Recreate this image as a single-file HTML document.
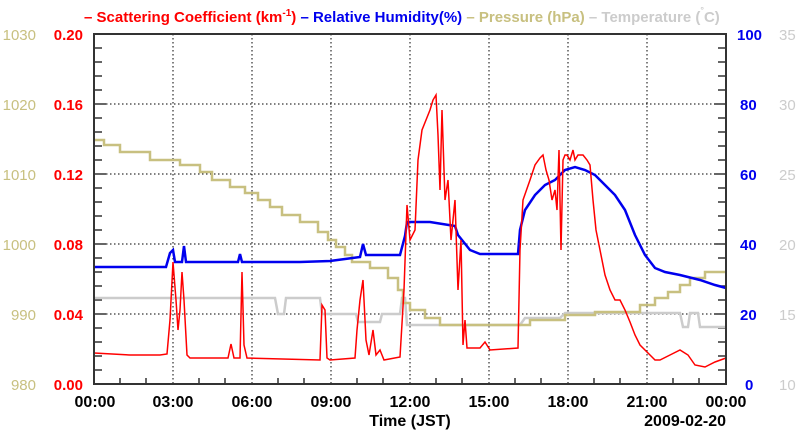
<!DOCTYPE html>
<html><head><meta charset="utf-8"><style>body{margin:0;background:#fff}svg{display:block;font-family:"Liberation Sans",sans-serif;font-weight:bold}</style></head><body>
<svg width="800" height="434" viewBox="0 0 800 434">
<g stroke="#000" stroke-dasharray="1.5,2.5" stroke-width="1">
<line x1="173" y1="34" x2="173" y2="384"/><line x1="252" y1="34" x2="252" y2="384"/><line x1="331" y1="34" x2="331" y2="384"/><line x1="410" y1="34" x2="410" y2="384"/><line x1="489" y1="34" x2="489" y2="384"/><line x1="568" y1="34" x2="568" y2="384"/><line x1="647" y1="34" x2="647" y2="384"/>
<line x1="94" y1="104" x2="726" y2="104"/><line x1="94" y1="174" x2="726" y2="174"/><line x1="94" y1="244" x2="726" y2="244"/><line x1="94" y1="314" x2="726" y2="314"/>
</g>
<g stroke="#333" stroke-width="1.5">
<path d="M94,48h8M94,62h8M94,76h8M94,90h8M94,104h12M94,118h8M94,132h8M94,146h8M94,160h8M94,174h12M94,188h8M94,202h8M94,216h8M94,230h8M94,244h12M94,258h8M94,272h8M94,286h8M94,300h8M94,314h12M94,328h8M94,342h8M94,356h8M94,370h8"/>
<path d="M726,48h-8M726,62h-8M726,76h-8M726,90h-8M726,104h-12M726,118h-8M726,132h-8M726,146h-8M726,160h-8M726,174h-12M726,188h-8M726,202h-8M726,216h-8M726,230h-8M726,244h-12M726,258h-8M726,272h-8M726,286h-8M726,300h-8M726,314h-12M726,328h-8M726,342h-8M726,356h-8M726,370h-8"/>
<path d="M120,384v-6M146,384v-6M199,384v-6M225,384v-6M278,384v-6M304,384v-6M357,384v-6M383,384v-6M436,384v-6M462,384v-6M515,384v-6M541,384v-6M594,384v-6M620,384v-6M673,384v-6M699,384v-6"/>
</g>
<polyline fill="none" stroke="#ccc" stroke-width="2.5" points="94,298 275,298 278,314 284,314 286,298 320,298 322,314 356,314 358,322 380,322 382,314 400,314 402,298 405,298 407,325 470,325 520,325 525,318 560,318 565,313 680,313 683,327 688,327 690,313 698,313 700,327 726,327"/>
<polyline fill="none" stroke="#c8c080" stroke-width="2.5" points="94,140 104,140 104,145 120,145 120,152 150,152 150,160 180,160 180,165 200,165 200,172 212,172 212,180 230,180 230,187 245,187 245,193 258,193 258,200 270,200 270,207 282,207 282,215 300,215 300,222 318,222 318,232 328,232 328,240 336,240 336,247 345,247 345,255 352,255 352,262 370,262 370,268 388,268 388,278 398,278 398,290 403,290 403,303 410,303 410,310 425,310 425,318 440,318 440,325 520,325 530,325 530,320 565,320 565,315 595,315 595,312 640,312 640,305 655,305 655,298 668,298 668,292 680,292 680,285 690,285 690,278 705,278 705,272 726,272"/>
<polyline fill="none" stroke="#0000ee" stroke-width="2.5" points="94,267 166,267 170,253 173,250 175,262 182,262 184,246 186,262 238,262 240,254 242,262 300,262 330,261 345,259 360,257 363,244 366,255 400,255 405,236 407,222 430,222 455,226 458,235 462,240 470,250 480,254 518,254 520,230 525,210 535,195 545,185 555,180 565,170 575,167 585,170 595,175 605,185 615,195 625,210 635,235 645,255 655,268 665,272 680,275 700,280 715,285 726,288"/>
<polyline fill="none" stroke="#ff0000" stroke-width="1.5" points="94,353 130,355 160,355 167,354 170,320 173,262 176,300 178,330 180,310 182,272 184,300 187,355 190,358 228,358 231,344 234,358 240,358 242,272 244,345 247,358 320,360 322,305 325,310 327,358 330,360 355,358 357,330 360,300 363,280 366,340 369,355 373,330 376,355 380,350 384,360 400,357 404,290 407,205 410,240 415,230 418,160 422,130 426,120 430,110 433,100 436,95 438,135 440,190 442,110 445,200 448,180 451,240 455,200 458,290 461,240 463,345 465,320 467,348 480,348 485,342 490,350 518,348 520,250 523,200 530,180 535,165 540,158 543,155 546,170 549,180 552,200 555,190 557,210 559,150 561,250 563,160 565,155 567,155 570,160 573,150 575,160 578,155 583,155 587,160 590,165 593,200 596,230 600,250 605,275 610,290 615,300 620,300 625,310 630,322 635,335 640,345 650,355 655,360 660,360 670,355 680,350 688,355 695,365 705,367 715,362 726,358"/>
<rect x="94" y="34" width="632" height="350" fill="none" stroke="#333" stroke-width="2"/>
<g font-size="15" fill="#ff0000" text-anchor="end"><text x="83" y="40">0.20</text><text x="83" y="110">0.16</text><text x="83" y="180">0.12</text><text x="83" y="250">0.08</text><text x="83" y="320">0.04</text><text x="83" y="390">0.00</text></g>
<g font-size="15" fill="#c8c080" font-weight="normal" text-anchor="end"><text x="36" y="40">1030</text><text x="36" y="110">1020</text><text x="36" y="180">1010</text><text x="36" y="250">1000</text><text x="36" y="320">990</text><text x="36" y="390">980</text></g>
<g font-size="15" fill="#0000ee"><text x="737" y="40">100</text><text x="740" y="110">80</text><text x="740" y="180">60</text><text x="740" y="250">40</text><text x="740" y="320">20</text><text x="745" y="390">0</text></g>
<g font-size="15" fill="#ccc" font-weight="normal"><text x="779" y="40">35</text><text x="779" y="110">30</text><text x="779" y="180">25</text><text x="779" y="250">20</text><text x="779" y="320">15</text><text x="779" y="390">10</text></g>
<g font-size="16" fill="#000" text-anchor="middle"><text x="95" y="407">00:00</text><text x="173" y="407">03:00</text><text x="252" y="407">06:00</text><text x="331" y="407">09:00</text><text x="410" y="407">12:00</text><text x="489" y="407">15:00</text><text x="568" y="407">18:00</text><text x="647" y="407">21:00</text><text x="726" y="407">00:00</text><text x="410" y="426">Time (JST)</text></g>
<text x="726" y="426" font-size="16" text-anchor="end">2009-02-20</text>
<text y="22" font-size="15"><tspan x="84" fill="#ff0000">– Scattering Coefficient (km</tspan><tspan fill="#ff0000" font-size="10" dy="-6">-1</tspan><tspan fill="#ff0000" dy="6">)</tspan><tspan fill="#0000ee"> – Relative Humidity(%)</tspan><tspan fill="#c8c080"> – Pressure (hPa)</tspan><tspan fill="#ccc"> – Temperature (</tspan><tspan fill="#ccc" font-size="9" dy="-9">°</tspan><tspan fill="#ccc" dy="9">C)</tspan></text>
</svg>
</body></html>
